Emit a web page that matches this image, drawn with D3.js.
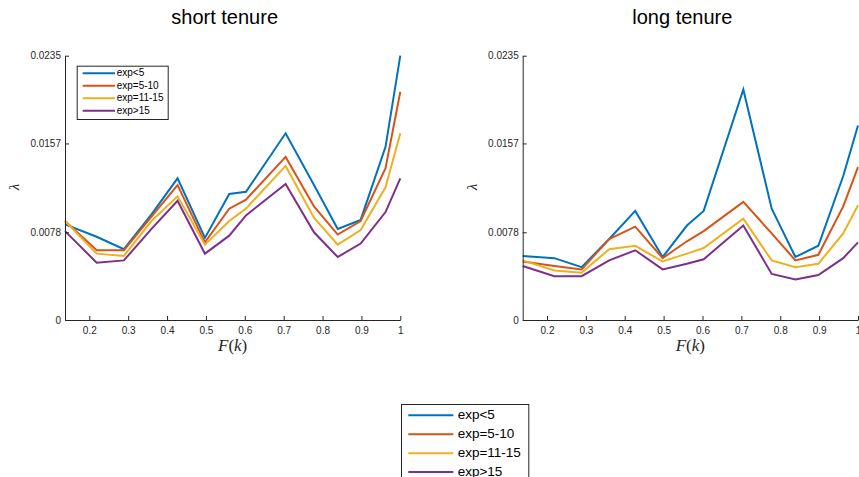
<!DOCTYPE html>
<html>
<head>
<meta charset="utf-8">
<script src="https://cdn.jsdelivr.net/npm/d3@7"></script>
<style>
  body { margin: 0; background: #fff; }
  svg { display: block; font-family: "Liberation Sans", Arial, sans-serif; }
</style>
</head>
<body>
<div id="chart"></div>
<script>
// x positions, F(k)
var fk = [0.1375, 0.219, 0.289, 0.36, 0.427, 0.4975, 0.56, 0.603, 0.705, 0.778, 0.839, 0.898, 0.962, 1.0];

var seriesNames = ["exp<5", "exp=5-10", "exp=11-15", "exp>15"];
var seriesColors = ["#0072BD", "#D95319", "#EDB120", "#7E2F8E"];

// short tenure
var shortExpLt5   = [0.0085, 0.0074, 0.0063, 0.0094, 0.0126, 0.0073, 0.0112, 0.0114, 0.0166, 0.0120, 0.0081, 0.0089, 0.0154, 0.0235];
var shortExp5to10 = [0.0088, 0.0062, 0.0062, 0.0092, 0.0120, 0.0069, 0.0099, 0.0107, 0.0145, 0.0101, 0.0076, 0.0088, 0.0135, 0.0203];
var shortExp11to15= [0.0088, 0.0059, 0.0057, 0.0088, 0.0110, 0.0067, 0.0088, 0.0099, 0.0137, 0.0091, 0.0067, 0.0080, 0.0118, 0.0166];
var shortExpGt15  = [0.0079, 0.0051, 0.0053, 0.0081, 0.0106, 0.0059, 0.0075, 0.0093, 0.0121, 0.0078, 0.0056, 0.0068, 0.0096, 0.0126];

// long tenure
var longExpLt5    = [0.0057, 0.0055, 0.0047, 0.0072, 0.0097, 0.0056, 0.0084, 0.0097, 0.0205, 0.0099, 0.0056, 0.0066, 0.0128, 0.0173];
var longExp5to10  = [0.0052, 0.0048, 0.0045, 0.0072, 0.0083, 0.0055, 0.0070, 0.0079, 0.0105, 0.0077, 0.0053, 0.0058, 0.0101, 0.0136];
var longExp11to15 = [0.0053, 0.0044, 0.0042, 0.0063, 0.0066, 0.0052, 0.0059, 0.0064, 0.0090, 0.0053, 0.0047, 0.0050, 0.0077, 0.0102];
var longExpGt15   = [0.0048, 0.0039, 0.0039, 0.0053, 0.0062, 0.0045, 0.0050, 0.0054, 0.0084, 0.0041, 0.0036, 0.0040, 0.0055, 0.0069];

var yTicks = [0, 0.0078, 0.0157, 0.0235];
var xTicks = [0.2, 0.3, 0.4, 0.5, 0.6, 0.7, 0.8, 0.9, 1];

var width = 859, height = 477;

var svg = d3.select("#chart").append("svg")
    .attr("width", width)
    .attr("height", height);

var panels = [
  {title: "short tenure", left: 65, series: [shortExpLt5, shortExp5to10, shortExp11to15, shortExpGt15], legend: true},
  {title: "long tenure", left: 522.7, series: [longExpLt5, longExp5to10, longExp11to15, longExpGt15], legend: false}
];

var plotW = 335.3, plotTop = 55.7, plotBottom = 320;
var axisColor = "#262626";

panels.forEach(function(p) {
  var x = d3.scaleLinear().domain([fk[0], 1]).range([p.left, p.left + plotW]);
  var y = d3.scaleLinear().domain([0, 0.0235]).range([plotBottom, plotTop]);

  var g = svg.append("g");

  // title
  g.append("text")
      .attr("x", p.left + plotW / 2 - 8)
      .attr("y", 24)
      .attr("text-anchor", "middle")
      .attr("font-size", "20px")
      .attr("fill", "#000")
      .text(p.title);

  // lines
  var line = d3.line()
      .x(function(d, i) { return x(fk[i]); })
      .y(function(d) { return y(d); });

  p.series.forEach(function(s, k) {
    g.append("path")
        .datum(s)
        .attr("fill", "none")
        .attr("stroke", seriesColors[k])
        .attr("stroke-width", 2)
        .attr("stroke-linejoin", "miter")
        .attr("d", line);
  });

  // axes, ticks pointing inward
  var yAxis = d3.axisLeft(y).tickValues(yTicks).tickSizeInner(-4).tickSizeOuter(0).tickPadding(4)
      .tickFormat(function(d) { return d === 0 ? "0" : d3.format(".4f")(d); });
  var xAxis = d3.axisBottom(x).tickValues(xTicks).tickSizeInner(-4).tickSizeOuter(0).tickPadding(7)
      .tickFormat(function(d) { return d === 1 ? "1" : d3.format(".1f")(d); });

  var ya = g.append("g").attr("transform", "translate(" + p.left + ",0)").call(yAxis);
  var xa = g.append("g").attr("transform", "translate(0," + plotBottom + ")").call(xAxis);

  [ya, xa].forEach(function(a) {
    a.select(".domain").attr("stroke", axisColor).attr("stroke-width", 1);
    a.selectAll(".tick line").attr("stroke", axisColor);
    a.selectAll(".tick text").attr("fill", axisColor).attr("font-size", "10px")
        .attr("font-family", "Liberation Sans, Arial, sans-serif");
  });

  // x label F(k)
  var xl = g.append("text")
      .attr("x", p.left + plotW / 2)
      .attr("y", 351)
      .attr("text-anchor", "middle")
      .attr("font-family", "Liberation Serif, Times New Roman, serif")
      .attr("font-size", "17px")
      .attr("fill", axisColor);
  xl.append("tspan").attr("font-style", "italic").text("F");
  xl.append("tspan").text("(");
  xl.append("tspan").attr("font-style", "italic").text("k");
  xl.append("tspan").text(")");

  // y label lambda
  g.append("text")
      .attr("transform", "translate(" + (p.left - 46) + "," + 187 + ") rotate(-90)")
      .attr("text-anchor", "middle")
      .attr("font-family", "Liberation Serif, Times New Roman, serif")
      .attr("font-style", "italic")
      .attr("font-size", "15px")
      .attr("fill", axisColor)
      .text("λ");

  if (p.legend) {
    drawLegend(g, 76.7, 65.7, 91, 53.3, 6, 32.3, 1.7, 12.5, 10);
  }
});

// outside legend at the bottom
drawLegend(svg.append("g"), 401, 404, 127.3, 84, 7.3, 45, 4.4, 18.9, 13.5);

function drawLegend(g, lx, ly, w, h, lineOff, lineLen, gap, rowH, fs) {
  g.append("rect")
      .attr("x", lx + 0.5).attr("y", ly + 0.5)
      .attr("width", w).attr("height", h)
      .attr("fill", "#fff")
      .attr("stroke", axisColor)
      .attr("stroke-width", 1);
  seriesNames.forEach(function(name, i) {
    var cy = ly + rowH * 0.6 + i * rowH;
    g.append("line")
        .attr("x1", lx + lineOff).attr("x2", lx + lineOff + lineLen)
        .attr("y1", cy).attr("y2", cy)
        .attr("stroke", seriesColors[i])
        .attr("stroke-width", 2);
    g.append("text")
        .attr("x", lx + lineOff + lineLen + gap)
        .attr("y", cy)
        .attr("dy", "0.3em")
        .attr("font-size", fs + "px")
        .attr("fill", "#000")
        .text(name);
  });
}
</script>
</body>
</html>
